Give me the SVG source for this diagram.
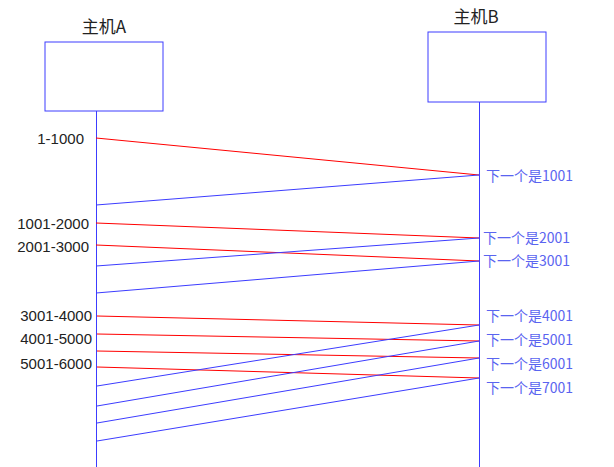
<svg xmlns="http://www.w3.org/2000/svg" width="614" height="467" viewBox="0 0 614 467">
<style>
.box{fill:#fff;stroke:#3c3cff;stroke-width:1}
.life{stroke:#3c3cff;stroke-width:1}
.r{stroke:#ff0000;stroke-width:1}
.b{stroke:#3c3cff;stroke-width:1}
.t{font-family:"Noto Sans CJK SC","Liberation Sans",sans-serif;font-size:17px;fill:#222}
.l{font-family:"Liberation Sans","Noto Sans CJK SC",sans-serif;font-size:15px;fill:#222;text-anchor:end}
.rl{font-family:"Noto Sans CJK SC","Liberation Sans",sans-serif;font-size:14px;fill:#5a64f0}
</style>
<rect width="614" height="467" fill="#fff"/>
<g id="hostA"><rect class="box" x="45" y="42" width="118" height="69"/><text class="t" x="104" y="33" text-anchor="middle">主机A</text><line class="life" x1="96.5" y1="111" x2="96.5" y2="467"/></g>
<g id="hostB"><rect class="box" x="428" y="32" width="118" height="70"/><text class="t" x="476" y="23" text-anchor="middle">主机B</text><line class="life" x1="479.5" y1="102" x2="479.5" y2="467"/></g>
<g id="connectors">
<line class="r" x1="96" y1="138" x2="479" y2="175"/>
<line class="r" x1="96" y1="223" x2="479" y2="238"/>
<line class="r" x1="96" y1="245" x2="479" y2="261"/>
<line class="r" x1="97" y1="316" x2="479" y2="325"/>
<line class="r" x1="97" y1="334" x2="479" y2="341"/>
<line class="r" x1="97" y1="351" x2="479" y2="358"/>
<line class="r" x1="97" y1="367" x2="479" y2="378"/>
<line class="b" x1="479" y1="175" x2="96" y2="205"/>
<line class="b" x1="479" y1="238" x2="96" y2="266"/>
<line class="b" x1="479" y1="261" x2="96" y2="293"/>
<line class="b" x1="479" y1="325" x2="97" y2="386"/>
<line class="b" x1="479" y1="341" x2="97" y2="406"/>
<line class="b" x1="479" y1="358" x2="97" y2="423"/>
<line class="b" x1="479" y1="378" x2="97" y2="441"/>
</g>
<g id="labels">
<text class="l" x="84" y="144">1-1000</text>
<text class="l" x="89" y="229">1001-2000</text>
<text class="l" x="89" y="252">2001-3000</text>
<text class="l" x="92" y="321">3001-4000</text>
<text class="l" x="92" y="344">4001-5000</text>
<text class="l" x="92" y="369">5001-6000</text>
<text class="rl" x="486" y="181">下一个是1001</text>
<text class="rl" x="483" y="243">下一个是2001</text>
<text class="rl" x="483" y="266">下一个是3001</text>
<text class="rl" x="486" y="321">下一个是4001</text>
<text class="rl" x="486" y="345">下一个是5001</text>
<text class="rl" x="486" y="369">下一个是6001</text>
<text class="rl" x="486" y="393">下一个是7001</text>
</g>
</svg>
